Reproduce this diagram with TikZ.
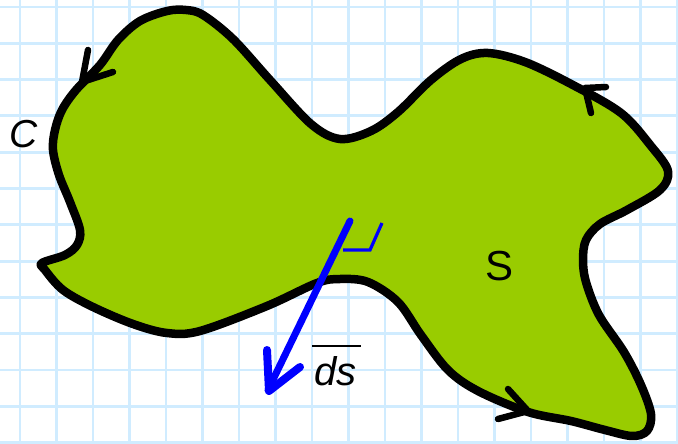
\documentclass[tikz,border=0pt]{standalone}
\usepackage{fontspec}
\setmainfont{Liberation Sans}
\usetikzlibrary{positioning}
\definecolor{gridblue}{RGB}{208,236,255}
\definecolor{surfgreen}{RGB}{153,204,0}

\begin{document}
\begin{tikzpicture}[x=1pt, y=-1pt,
  gridline/.style={draw=gridblue, line width=2.8pt},
  outline/.style={draw=black, line width=8.5pt, fill=surfgreen, line join=round},
  barb/.style={draw=black, line width=6.5pt, line cap=round, line join=round},
  vec/.style={draw=blue, line width=7pt, line cap=round},
  vecbarb/.style={draw=blue, line width=8pt, line cap=round, line join=round},
  rtmark/.style={draw=blue, line width=3.2pt},
  overbar/.style={draw=black, line width=2pt},
  lbl/.style={inner sep=0pt}
]
\useasboundingbox (0,0) rectangle (678,444);
\fill[white] (0,0) rectangle (678,444);

% -- squared paper --
\foreach \i in {0,...,18}
  \draw[gridline] ({20+36.5*\i},0) -- ({20+36.5*\i},444);
\foreach \j in {0,...,12}
  \draw[gridline] (0,{7+36.3*\j}) -- (678,{7+36.3*\j});

% -- surface S bounded by the curve C --
\draw[outline] plot[smooth cycle, tension=0.55] coordinates {
  (167,11) (186,10) (203,15) (233,39) (270,80) (311,124) (340,139)
  (371,131) (398,112) (431,80) (461,59) (488,53) (525,62) (571,84)
  (621,113) (651,146) (668,171) (660,190) (627,210) (600,224) (586,240)
  (583,260) (586,282) (599,315) (624,352) (641,385) (651,414) (647,431)
  (632,436) (605,430) (571,421) (528,412) (478,391) (448,370) (421,335)
  (398,302) (368,282) (340,279) (317,283) (267,306) (200,331) (167,333)
  (133,324) (93,307) (63,290) (45,270) (42,263) (65,255) (77,245)
  (80,230) (70,202) (59,175) (53,150) (55,130) (62,110) (76,90)
  (100,65) (118,40) (140,21)};

% -- orientation marks on C --
\draw[barb] (88,50) -- (82,82) -- (113,72);
\draw[barb] (606,87) -- (585,88) -- (591,113);
\draw[barb] (508,389) -- (528,411) -- (498,419);

% -- surface element vector --
\draw[vec] (350,221) -- (268,390);
\draw[vecbarb] (267,350) -- (269,391) -- (300,367);
\draw[rtmark] (343,250) -- (370,250) -- (382,223);

% -- labels --
\node[lbl, font=\fontsize{39}{42}\selectfont] (curveC) at (24,134) {\itshape C};
\node[lbl, font=\fontsize{42}{46}\selectfont] (surfS) at (500,266) {S};
\node[lbl, font=\fontsize{40}{44}\selectfont, anchor=base west] (ds) at (314,385) {\itshape ds};
\draw[overbar] ([xshift=-2pt, yshift=10pt]ds.north west) -- ([xshift=4pt, yshift=10pt]ds.north east);

\end{tikzpicture}
\end{document}
